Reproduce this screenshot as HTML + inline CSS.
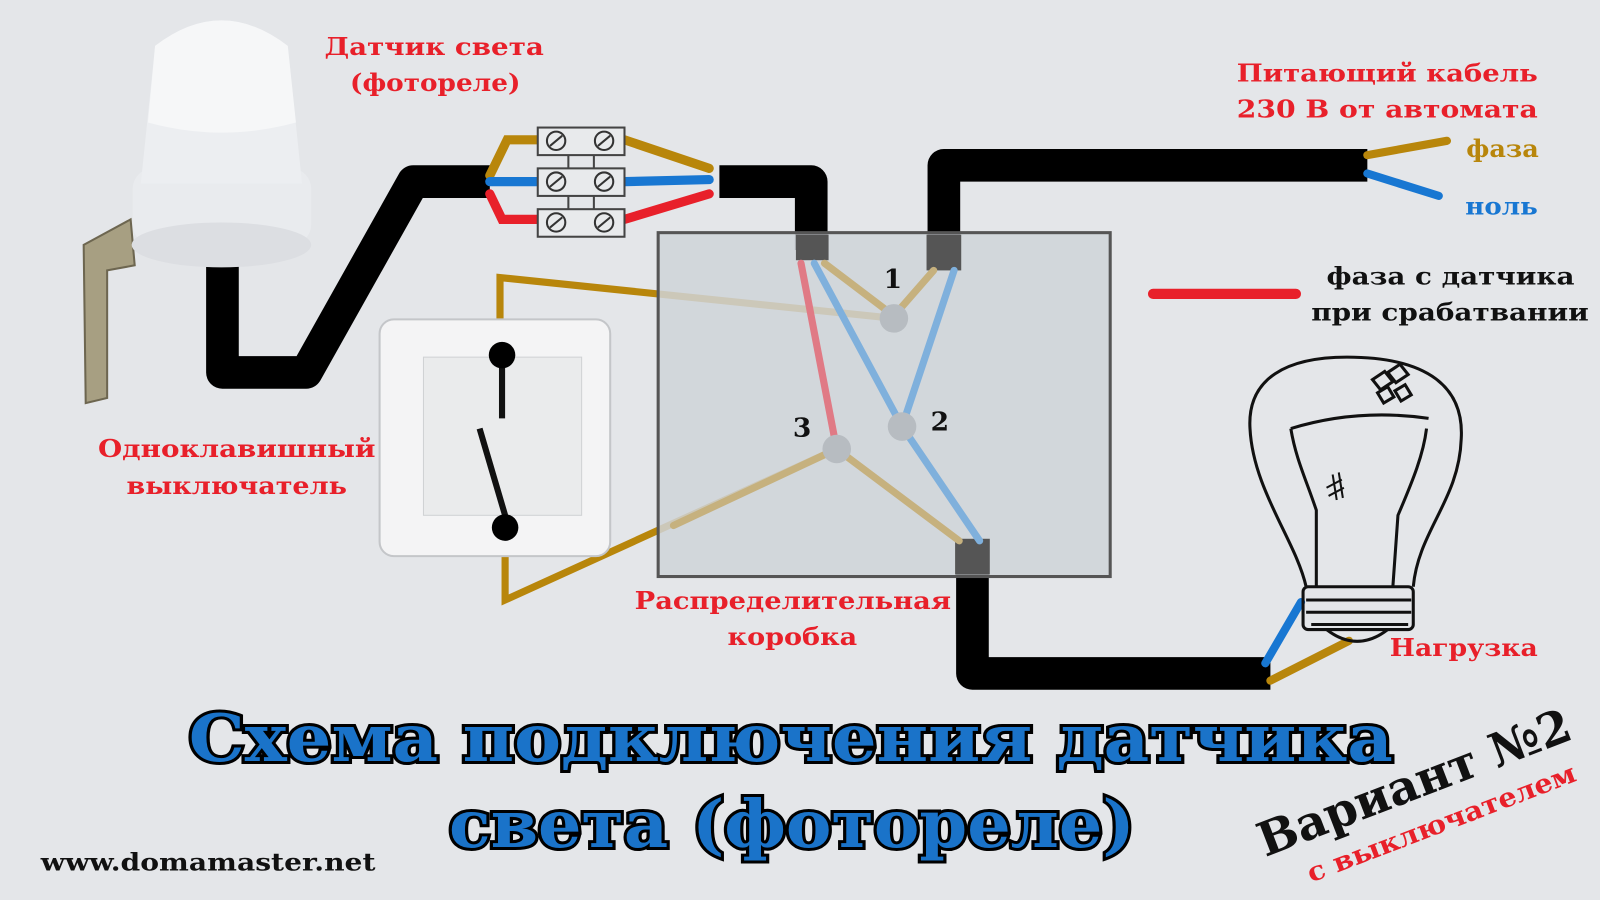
<!DOCTYPE html>
<html><head><meta charset="utf-8"><style>
html,body{margin:0;padding:0;background:#e4e6e9;}
svg{display:block}
text{font-family:"DejaVu Serif","Liberation Serif",serif;font-weight:bold}
</style></head><body>
<svg width="1600" height="900" viewBox="0 0 1568 882" preserveAspectRatio="none" xmlns="http://www.w3.org/2000/svg">
<rect width="1568" height="882" fill="#e4e6e9"/>
<!-- bracket -->
<path d="M82 240 L128 215 L132 260 L105 265 L105 390 L84 395 Z" fill="#a79f82" stroke="#6d6650" stroke-width="2"/>
<!-- black cable 1 -->
<path d="M218 255 L218 365 L300 365 L405 178 L480 178" fill="none" stroke="#000" stroke-width="32" stroke-linejoin="round"/>
<!-- relay dome -->
<rect x="130" y="165" width="175" height="75" rx="20" fill="#e9ebee"/>
<ellipse cx="217" cy="240" rx="88" ry="22" fill="#dcdee2"/>
<path d="M152 45 Q217 -5 282 45 L296 180 L138 180 Z" fill="#eceef1"/>
<path d="M152 45 Q217 -5 282 45 L290 120 Q217 140 145 120 Z" fill="#f6f7f8"/>
<!-- terminal wires left -->
<path d="M480 172 L497 137 L527 137" fill="none" stroke="#b8860b" stroke-width="9" stroke-linecap="round"/>
<line x1="480" y1="178" x2="527" y2="178" stroke="#1877d2" stroke-width="9" stroke-linecap="round"/>
<path d="M480 190 L492 215 L527 215" fill="none" stroke="#e8202a" stroke-width="9" stroke-linecap="round"/>
<path d="M612 137 L695 165" stroke="#b8860b" stroke-width="9" stroke-linecap="round"/>
<line x1="612" y1="178" x2="695" y2="176" stroke="#1877d2" stroke-width="9" stroke-linecap="round"/>
<line x1="612" y1="215" x2="695" y2="190" stroke="#e8202a" stroke-width="9" stroke-linecap="round"/>
<!-- terminals -->
<g fill="#e8eaec" stroke="#444" stroke-width="2">
<rect x="527" y="125" width="85" height="27"/><rect x="527" y="165" width="85" height="27"/><rect x="527" y="205" width="85" height="27"/>
<line x1="557" y1="152" x2="557" y2="165"/><line x1="582" y1="152" x2="582" y2="165"/>
<line x1="557" y1="192" x2="557" y2="205"/><line x1="582" y1="192" x2="582" y2="205"/>
</g>
<g fill="none" stroke="#333" stroke-width="2">
<circle cx="545" cy="138" r="9"/><circle cx="592" cy="138" r="9"/>
<circle cx="545" cy="178" r="9"/><circle cx="592" cy="178" r="9"/>
<circle cx="545" cy="218" r="9"/><circle cx="592" cy="218" r="9"/>
<path d="M539 143 L551 133 M586 143 L598 133 M539 183 L551 173 M586 183 L598 173 M539 223 L551 213 M586 223 L598 213"/>
</g>
<!-- black cable 2 -->
<path d="M705 178 L795 178 L795 245" fill="none" stroke="#000" stroke-width="32" stroke-linejoin="round"/>
<path d="M925 250 L925 162 L1340 162" fill="none" stroke="#000" stroke-width="32" stroke-linejoin="round"/>
<line x1="1340" y1="152" x2="1418" y2="138" stroke="#b8860b" stroke-width="8" stroke-linecap="round"/>
<line x1="1340" y1="170" x2="1410" y2="192" stroke="#1877d2" stroke-width="8" stroke-linecap="round"/>
<!-- bottom cable -->
<path d="M953 545 L953 660 L1245 660" fill="none" stroke="#000" stroke-width="32" stroke-linejoin="round"/>
<line x1="1240" y1="650" x2="1275" y2="590" stroke="#1877d2" stroke-width="8" stroke-linecap="round"/>
<line x1="1245" y1="667" x2="1322" y2="628" stroke="#b8860b" stroke-width="8" stroke-linecap="round"/>
<!-- switch wires -->
<path d="M876 312 L490 272 L490 345" fill="none" stroke="#b8860b" stroke-width="7"/>
<path d="M820 440 L495 588 L495 520" fill="none" stroke="#b8860b" stroke-width="7"/>
<!-- switch -->
<rect x="372" y="313" width="226" height="232" rx="14" fill="#f4f4f5" stroke="#c4c6c9" stroke-width="2"/>
<rect x="415" y="350" width="155" height="155" fill="#eaebec" stroke="#d0d2d4"/>
<line x1="492" y1="348" x2="492" y2="410" stroke="#111" stroke-width="6"/>
<line x1="470" y1="420" x2="495" y2="505" stroke="#111" stroke-width="6"/>
<circle cx="492" cy="348" r="13" fill="#000"/>
<circle cx="495" cy="517" r="13" fill="#000"/>
<!-- box -->
<rect x="645" y="228" width="443" height="337" fill="#cfd4d8" fill-opacity="0.85" stroke="#555" stroke-width="3"/>
<rect x="780" y="230" width="32" height="25" fill="#555"/>
<rect x="908" y="230" width="34" height="35" fill="#555"/>
<rect x="936" y="528" width="34" height="35" fill="#555"/>
<g stroke-width="7" stroke-linecap="round">
<line x1="785" y1="258" x2="818" y2="430" stroke="#e07a85"/>
<line x1="798" y1="258" x2="884" y2="418" stroke="#7fb0dc"/>
<line x1="808" y1="258" x2="870" y2="305" stroke="#c6b17e"/>
<line x1="915" y1="265" x2="880" y2="305" stroke="#c6b17e"/>
<line x1="935" y1="265" x2="884" y2="418" stroke="#7fb0dc"/>
<line x1="884" y1="418" x2="960" y2="530" stroke="#7fb0dc"/>
<line x1="820" y1="440" x2="940" y2="530" stroke="#c6b17e"/>
<line x1="820" y1="440" x2="660" y2="515" stroke="#c6b17e"/>
</g>
<circle cx="876" cy="312" r="14" fill="#b7bcc1"/>
<circle cx="884" cy="418" r="14" fill="#b7bcc1"/>
<circle cx="820" cy="440" r="14" fill="#b7bcc1"/>
<text x="866" y="282" font-size="26" fill="#111">1</text>
<text x="912" y="422" font-size="26" fill="#111">2</text>
<text x="777" y="428" font-size="26" fill="#111">3</text>
<!-- legend -->
<line x1="1130" y1="288" x2="1270" y2="288" stroke="#e8202a" stroke-width="10" stroke-linecap="round"/>
<!-- lamp -->
<g fill="none" stroke="#111" stroke-width="3">
<path d="M1280 575 C1270 530 1228 480 1225 420 C1222 370 1262 350 1320 350 C1400 350 1435 380 1432 430 C1430 490 1390 520 1385 575"/>
<path d="M1290 575 L1290 500 C1280 470 1270 450 1265 420 M1365 575 L1370 505 C1385 470 1395 445 1398 420"/>
<path d="M1265 420 Q1330 400 1400 410"/>
<rect x="1277" y="575" width="108" height="42" rx="5"/>
<path d="M1280 588 H1383 M1280 600 H1383 M1285 612 H1380 M1300 617 Q1330 640 1360 617"/>
<path d="M1345 372 l12 -8 l8 10 l-12 8z M1360 365 l12 -8 l8 10 l-12 8z M1350 385 l10 -6 l6 10 l-10 6z M1367 383 l10 -6 l6 10 l-10 6z"/>
<path d="M1300 478 l15 -8 M1302 486 l15 -8 M1306 465 l4 25 M1312 463 l4 25" stroke-width="2"/>
</g>
<!-- labels -->
<g font-size="24" fill="#e8202a" lengthAdjust="spacingAndGlyphs">
<text x="318" y="54" textLength="215" lengthAdjust="spacingAndGlyphs">Датчик света</text>
<text x="343" y="89" textLength="167" lengthAdjust="spacingAndGlyphs">(фотореле)</text>
<text x="1212" y="80" textLength="295" lengthAdjust="spacingAndGlyphs">Питающий кабель</text>
<text x="1212" y="115" textLength="295" lengthAdjust="spacingAndGlyphs">230 В от автомата</text>
<text x="96" y="448" textLength="272" lengthAdjust="spacingAndGlyphs">Одноклавишный</text>
<text x="124" y="484" textLength="216" lengthAdjust="spacingAndGlyphs">выключатель</text>
<text x="622" y="597" textLength="310" lengthAdjust="spacingAndGlyphs">Распределительная</text>
<text x="713" y="632" textLength="127" lengthAdjust="spacingAndGlyphs">коробка</text>
<text x="1362" y="643" textLength="145" lengthAdjust="spacingAndGlyphs">Нагрузка</text>
</g>
<text x="1437" y="154" font-size="24" fill="#b8860b" textLength="71" lengthAdjust="spacingAndGlyphs">фаза</text>
<text x="1436" y="210" font-size="24" fill="#1877d2" textLength="71" lengthAdjust="spacingAndGlyphs">ноль</text>
<text x="1300" y="279" font-size="24" fill="#111" textLength="243" lengthAdjust="spacingAndGlyphs">фаза с датчика</text>
<text x="1285" y="314" font-size="24" fill="#111" textLength="272" lengthAdjust="spacingAndGlyphs">при срабатвании</text>
<text x="40" y="853" font-size="24" fill="#111" textLength="328" lengthAdjust="spacingAndGlyphs">www.domamaster.net</text>
<!-- title -->
<g font-size="64" fill="#1a73c9" stroke="#000" stroke-width="6" paint-order="stroke">
<text x="185" y="746" textLength="1180" lengthAdjust="spacingAndGlyphs">Схема подключения датчика</text>
<text x="440" y="830" textLength="672" lengthAdjust="spacingAndGlyphs">света (фотореле)</text>
</g>
<g transform="rotate(-21 1240 840)">
<text x="1240" y="840" font-size="46" fill="#111" textLength="325" lengthAdjust="spacingAndGlyphs">Вариант №2</text>
</g>
<g transform="rotate(-21 1285 865)">
<text x="1285" y="865" font-size="26" fill="#e8202a" textLength="280" lengthAdjust="spacingAndGlyphs">с  выключателем</text>
</g>
</svg>
</body></html>
